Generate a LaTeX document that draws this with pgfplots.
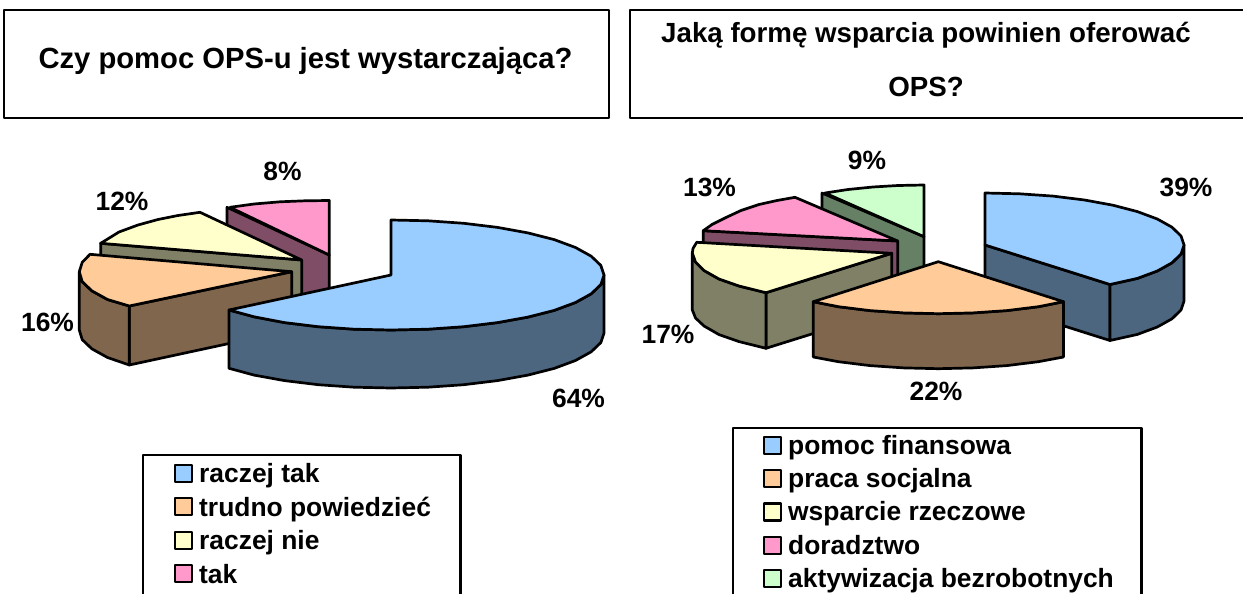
\documentclass[border=0pt]{standalone}
\usepackage{pgfplots}
\pgfplotsset{compat=1.18}
\usepackage{fontspec}
\setmainfont{Liberation Sans}
\definecolor{bT}{HTML}{99CCFF}\definecolor{bS}{HTML}{4C6680}
\definecolor{oT}{HTML}{FFCC99}\definecolor{oS}{HTML}{80664D}
\definecolor{yT}{HTML}{FFFFCC}\definecolor{yS}{HTML}{808066}
\definecolor{pT}{HTML}{FF99CC}\definecolor{pS}{HTML}{804D66}
\definecolor{gT}{HTML}{CCFFCC}\definecolor{gS}{HTML}{668066}
\newcommand{\lab}[3]{\node[anchor=base,font=\fontsize{26.4}{30}\selectfont\bfseries,inner sep=0pt] at (axis cs:#1,#2) {#3};}
\newcommand{\ttl}[4]{\node[anchor=base,font=\fontsize{#1}{30}\selectfont\bfseries,inner sep=0pt] at (axis cs:#2,#3) {#4};}
\newcommand{\leg}[3]{\node[anchor=base west,font=\fontsize{26.4}{30}\selectfont\bfseries,inner sep=0pt] at (axis cs:#1,#2) {#3};}
\begin{document}
\begin{tikzpicture}
\useasboundingbox (0,0) rectangle (1243pt,594pt);
\begin{axis}[at={(0,0)},anchor=south west,scale only axis,width=1243pt,height=594pt,xmin=0,xmax=1243,ymin=0,ymax=594,y dir=reverse,hide axis,
  every axis plot/.append style={line width=2.7pt,line join=round,draw=black,mark=none},
  box/.style={line width=2.2pt,draw=black,fill=white}]
% title boxes
\addplot[box] coordinates {(4,10)(609,10)(609,118)(4,118)} --cycle;
\addplot[box] coordinates {(630,10)(1260,10)(1260,118)(630,118)} --cycle;
% ---- left pie: pink
\addplot[fill=pS] coordinates {(227,207.3)(329.3,255)(329.3,313)(227,266)} --cycle;
\addplot[fill=pT] coordinates {(329.3,200.5)(305,200.8)(280,201.8)(254,204)(230,207.3)(329.3,255)} --cycle;
% yellow
\addplot[fill=yS] coordinates {(100.7,243.3)(301.7,260)(301.7,318)(100.7,301)} --cycle;
\addplot[fill=yT] coordinates {(200,212.3)(178,215.5)(158,219.5)(138,225)(119,232)(100.7,243.3)(301.7,260)} --cycle;
% orange
\addplot[fill=oS] coordinates {(129.3,306)(291.7,271.7)(291.7,330)(129.3,365)} --cycle;
\addplot[fill=oS] coordinates {(79.3,271.7)(82.2,281.6)(91.8,290.8)(107.5,299.5)(129.3,306)(129.3,365)(107.5,357.5)(91.8,348.8)(82.2,339.6)(79.3,330)} --cycle;
\addplot[fill=oT] coordinates {(90,254.3)(82.2,262.4)(79.3,271.7)(82.2,281.6)(91.8,290.8)(107.5,299.5)(129.3,306)(291.7,271.7)} --cycle;
% blue
\addplot[fill=bS] coordinates {(604,275)(600.8,284.6)(591.2,293.8)(575.5,302.5)(554.2,310.4)(527.9,317.1)(497.5,322.6)(463.8,326.7)(428,329.2)(391,330)(354,329.2)(318.2,326.7)(284.5,322.6)(254.1,316.8)(229,310)(229,368.3)(254.1,375.1)(284.5,380.6)(318.2,384.7)(354,387.2)(391,388)(428,387.2)(463.8,384.7)(497.5,380.6)(527.9,375.1)(554.2,368.4)(575.5,360.5)(591.2,351.8)(600.8,342.6)(604,333)} --cycle;
\addplot[fill=bT] coordinates {(391,220)(428,220.8)(463.8,223.3)(497.5,227.4)(527.9,232.9)(554.2,239.6)(575.5,247.5)(591.2,256.2)(600.8,265.4)(604,275)(600.8,284.6)(591.2,293.8)(575.5,302.5)(554.2,310.4)(527.9,317.1)(497.5,322.6)(463.8,326.7)(428,329.2)(391,330)(354,329.2)(318.2,326.7)(284.5,322.6)(254.1,316.8)(229,310)(391,275)} --cycle;
% ---- right pie: green
\addplot[fill=gS] coordinates {(822,193)(924,236.7)(924,293)(822,249)} --cycle;
\addplot[fill=gT] coordinates {(924,185)(898,185.5)(873,187)(848,189.5)(825,193)(924,236.7)} --cycle;
% pink
\addplot[fill=pS] coordinates {(703.3,230.7)(897.7,241)(897.7,297)(703.3,287)} --cycle;
\addplot[fill=pT] coordinates {(795,197.3)(777,200.5)(759,204.5)(741,210.5)(726,217.5)(712,224.5)(703.3,230.7)(897.7,241)} --cycle;
% yellow
\addplot[fill=yS] coordinates {(766,292.7)(891.7,253.3)(891.7,309)(766,348.3)} --cycle;
\addplot[fill=yS] coordinates {(692.3,253)(695.5,262)(704,270.5)(719,279)(739,286)(766,292.7)(766,348.3)(739,341.6)(719,334.6)(704,326)(695.5,318)(692.3,310)} --cycle;
\addplot[fill=yT] coordinates {(696.7,242.3)(693,248.5)(692.3,253)(695.5,262)(704,270.5)(719,279)(739,286)(766,292.7)(891.7,253.3)} --cycle;
% blue
\addplot[fill=bS] coordinates {(985,245)(1110,284.5)(1110,340.5)(985,301)} --cycle;
\addplot[fill=bS] coordinates {(1184,245)(1181,254)(1172,262.8)(1157.3,271)(1137.4,278.4)(1110,284.5)(1110,340.5)(1137.4,334.4)(1157.3,327)(1172,318.8)(1181,310)(1184,301)} --cycle;
\addplot[fill=bT] coordinates {(985,193)(1019.5,193.8)(1053,196.1)(1084.5,200)(1112.9,205.2)(1137.4,211.6)(1157.3,219)(1172,227.2)(1181,236)(1184,245)(1181,254)(1172,262.8)(1157.3,271)(1137.4,278.4)(1110,284.5)(985,245)} --cycle;
% orange
\addplot[fill=oS] coordinates {(813.3,301.7)(838.4,306.7)(870,310.6)(903.7,312.9)(938.4,313.7)(973,312.9)(1006.8,310.6)(1038.4,306.7)(1063.5,301.7)(1063.5,357)(1038.4,361.7)(1006.8,365.6)(973,367.9)(938.4,368.7)(903.7,367.9)(870,365.6)(838.4,361.7)(813.3,357)} --cycle;
\addplot[fill=oT] coordinates {(938.3,261.7)(1063.5,301.7)(1038.4,306.7)(1006.8,310.6)(973,312.9)(938.4,313.7)(903.7,312.9)(870,310.6)(838.4,306.7)(813.3,301.7)} --cycle;
% legend boxes
\addplot[box] coordinates {(143,455)(460.5,455)(460.5,620)(143,620)} --cycle;
\addplot[box] coordinates {(733,428)(1141.5,428)(1141.5,620)(733,620)} --cycle;
% swatches
\addplot[fill=bT,line width=2.2pt] coordinates {(175,465)(192,465)(192,482)(175,482)} --cycle;
\addplot[fill=oT,line width=2.2pt] coordinates {(175,498)(192,498)(192,515)(175,515)} --cycle;
\addplot[fill=yT,line width=2.2pt] coordinates {(175,532)(192,532)(192,549)(175,549)} --cycle;
\addplot[fill=pT,line width=2.2pt] coordinates {(175,565)(192,565)(192,582)(175,582)} --cycle;
\addplot[fill=bT,line width=2.2pt] coordinates {(764,437)(781,437)(781,454)(764,454)} --cycle;
\addplot[fill=oT,line width=2.2pt] coordinates {(764,470)(781,470)(781,487)(764,487)} --cycle;
\addplot[fill=yT,line width=2.2pt] coordinates {(764,503.5)(781,503.5)(781,520.5)(764,520.5)} --cycle;
\addplot[fill=pT,line width=2.2pt] coordinates {(764,537)(781,537)(781,554)(764,554)} --cycle;
\addplot[fill=gT,line width=2.2pt] coordinates {(764,570)(781,570)(781,587)(764,587)} --cycle;
% titles
\ttl{29.2}{305.5}{69}{Czy pomoc OPS-u jest wystarczająca?}
\ttl{27.7}{926}{43}{Jaką formę wsparcia powinien oferować}
\ttl{27.7}{926}{96}{OPS?}
% percentages
\lab{282.5}{180}{8\%}\lab{122}{210}{12\%}\lab{47.5}{331}{16\%}\lab{578.5}{407}{64\%}
\lab{867}{169.3}{9\%}\lab{709.5}{196.7}{13\%}\lab{1186}{196}{39\%}\lab{668}{343}{17\%}\lab{936}{400}{22\%}
% legend text
\leg{199}{482.7}{raczej tak}\leg{199}{516}{trudno powiedzieć}\leg{199}{549.3}{raczej nie}\leg{199}{583}{tak}
\leg{788}{454}{pomoc finansowa}\leg{788}{487.3}{praca socjalna}\leg{788}{520.7}{wsparcie rzeczowe}\leg{788}{554}{doradztwo}\leg{788}{587.3}{aktywizacja bezrobotnych}
\end{axis}
\end{tikzpicture}
\end{document}
